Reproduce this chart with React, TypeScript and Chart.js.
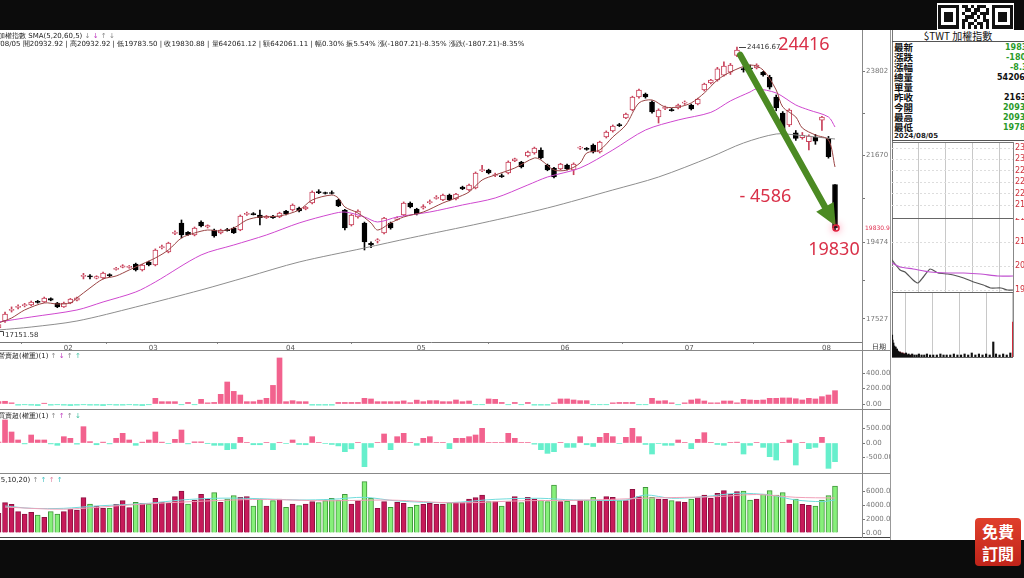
import React, { useEffect, useRef } from "react";
import { Chart, registerables } from "chart.js";

Chart.register(...registerables);

// ---------------- data ----------------
const dates = (
  "01/18 01/19 01/22 01/23 01/24 01/25 01/26 01/29 01/30 01/31 " +
  "02/01 02/02 02/05 02/15 02/16 02/19 02/20 02/21 02/22 02/23 02/26 02/27 02/29 " +
  "03/01 03/04 03/05 03/06 03/07 03/08 03/11 03/12 03/13 03/14 03/15 03/18 03/19 03/20 03/21 03/22 03/25 03/26 03/27 03/28 03/29 " +
  "04/01 04/02 04/03 04/08 04/09 04/10 04/11 04/12 04/15 04/16 04/17 04/18 04/19 04/22 04/23 04/24 04/25 04/26 04/29 04/30 " +
  "05/02 05/03 05/06 05/07 05/08 05/09 05/10 05/13 05/14 05/15 05/16 05/17 05/20 05/21 05/22 05/23 05/24 05/27 05/28 05/29 05/30 05/31 " +
  "06/03 06/04 06/05 06/06 06/07 06/11 06/12 06/13 06/14 06/17 06/18 06/19 06/20 06/21 06/24 06/25 06/26 06/27 06/28 " +
  "07/01 07/02 07/03 07/04 07/05 07/08 07/09 07/10 07/11 07/12 07/15 07/16 07/17 07/18 07/19 07/22 07/23 07/26 07/29 07/30 07/31 " +
  "08/01 08/02 08/05"
).split(" ");

const opens = [
  17300, 17474, 17740, 17815, 17860, 17879, 17965, 17955, 18040, 17930,
  17830, 17930, 18000, 18600, 18620, 18560, 18563, 18650, 18780, 18840,
  18830, 18918, 18766, 18968, 18892, 19330, 19222, 19690, 19957, 19720,
  19653, 19982, 19860, 19779, 19703, 19790, 19830, 19779, 20175, 20195,
  20160, 20090, 20130, 20109, 20260, 20286, 20337, 20311, 20464, 20750,
  20730, 20730, 20540, 20286, 19906, 20109, 19957, 19440, 19500, 19703,
  19957, 20050, 20159, 20464, 20311, 20340, 20470, 20580, 20540, 20666,
  20565, 20869, 20794, 20844, 21280, 21300, 21160, 21150, 21224, 21530,
  21500, 21655, 21730, 21807, 21426, 21350, 21325, 21426, 21300, 21850,
  21850, 21934, 21756, 22136, 22288, 22450, 22618, 22820, 23150, 23225,
  23023, 22643, 22860, 22830, 22871, 22990, 22947, 22973, 23327, 23504,
  23580, 23700, 23780, 24200, 23870, 23880, 23884, 23783, 23650, 23150,
  22744, 22440, 22240, 22120, 22020, 22130, 22560, 22100, 20932.92,
];
const highs = [
  17400, 17700, 17830, 17880, 17920, 17980, 17995, 18080, 18060, 17945,
  17950, 18045, 18080, 18680, 18650, 18620, 18710, 18670, 18830, 18900,
  18880, 18940, 18910, 18990, 19300, 19400, 19470, 19760, 20033, 19740,
  19855, 20010, 19910, 19800, 19800, 19820, 19850, 20160, 20230, 20220,
  20286, 20150, 20150, 20230, 20280, 20440, 20360, 20380, 20770, 20800,
  20740, 20770, 20560, 20300, 20180, 20290, 19980, 19480, 19560, 20100,
  19980, 20110, 20490, 20490, 20330, 20420, 20540, 20650, 20690, 20690,
  20710, 20890, 20940, 21250, 21420, 21320, 21220, 21200, 21530, 21600,
  21520, 21780, 21880, 21860, 21450, 21370, 21470, 21450, 21480, 21900,
  21870, 21960, 22030, 22290, 22440, 22480, 22740, 23170, 23350, 23250,
  23050, 22850, 22920, 22860, 22970, 23050, 22970, 23120, 23500, 23600,
  23900, 24040, 24000, 24416.67, 23910, 23960, 23990, 23800, 23700, 23200,
  22780, 22850, 22300, 22250, 22190, 22200, 22660, 22150, 20932.92,
];
const lows = [
  17151.58, 17440, 17700, 17780, 17830, 17860, 17925, 17940, 17985, 17810,
  17815, 17910, 17980, 18540, 18540, 18540, 18540, 18590, 18760, 18820,
  18810, 18740, 18740, 18870, 18870, 19300, 19200, 19660, 19577, 19640,
  19630, 19860, 19830, 19600, 19680, 19750, 19690, 19760, 20150, 20160,
  19906, 20070, 20070, 20090, 20160, 20260, 20240, 20290, 20440, 20700,
  20690, 20690, 20370, 19780, 19880, 20080, 19273, 19330, 19450, 19680,
  19800, 20030, 20140, 20340, 20160, 20310, 20440, 20560, 20520, 20520,
  20540, 20800, 20770, 20820, 21260, 21200, 21130, 21110, 21200, 21510,
  21350, 21630, 21700, 21580, 21280, 21100, 21300, 21300, 21180, 21820,
  21800, 21730, 21730, 22110, 22260, 22400, 22600, 22800, 23120, 23120,
  22740, 22490, 22830, 22790, 22850, 22960, 22820, 22950, 23300, 23480,
  23550, 23680, 23720, 24170, 23780, 23840, 23860, 23680, 23350, 22800,
  22200, 22400, 22050, 22080, 21810, 21950, 22300, 21600, 19783.5,
];
const closes = [
  17380, 17651, 17770, 17845, 17890, 17955, 17945, 18057, 18000, 17830,
  17930, 18030, 18060, 18630, 18590, 18600, 18690, 18620, 18810, 18870,
  18860, 18766, 18892, 18892, 19273, 19360, 19450, 19720, 19653, 19660,
  19830, 19881, 19890, 19627, 19779, 19765, 19703, 20134, 20200, 20170,
  20090, 20130, 20090, 20210, 20185, 20413, 20260, 20362, 20742, 20725,
  20705, 20705, 20388, 19830, 20159, 20260, 19475, 19400, 19530, 20083,
  19830, 20083, 20464, 20362, 20185, 20370, 20500, 20610, 20666, 20540,
  20690, 20819, 20920, 21224, 21310, 21224, 21185, 21130, 21502, 21580,
  21380, 21756, 21857, 21604, 21300, 21122, 21452, 21325, 21452, 21880,
  21820, 21756, 22009, 22262, 22415, 22420, 22718, 23150, 23327, 23150,
  22769, 22820, 22890, 22800, 22947, 23020, 22846, 23099, 23479, 23580,
  23860, 23930, 23960, 24340, 23834, 23860, 23960, 23708, 23400, 22870,
  22300, 22820, 22100, 22180, 22160, 22030, 22640, 21638, 19830.88,
];

const volumes = [
  2812, 4338, 4099, 3051, 2717, 2955, 2574, 2240, 3051, 2717,
  3051, 3384, 3289, 5053, 4147, 3861, 3527, 3527, 4099, 4624,
  3623, 4385, 4243, 4147, 4958, 4433, 4243, 5196, 6005, 4147,
  4719, 5530, 4862, 5767, 4385, 4862, 5339, 5100, 5196, 3861,
  4862, 3861, 4624, 4862, 3670, 4147, 3909, 4147, 4481, 4338,
  4624, 4958, 4719, 5530, 4147, 4624, 7340, 4958, 3527, 4481,
  3670, 4385, 4243, 3670, 4004, 4099, 4243, 4099, 4147, 4338,
  4338, 4338, 4862, 5053, 5434, 4481, 4481, 3861, 4481, 5196,
  4338, 5100, 4862, 4719, 4481, 6863, 4481, 4576, 4004, 4719,
  4719, 5100, 4719, 5196, 5100, 4624, 4624, 6243, 5196, 6530,
  5100, 4862, 4815, 4624, 4481, 4385, 4862, 5053, 5434, 4958,
  5672, 6053, 5530, 5910, 6005, 4719, 4862, 5577, 6053, 5434,
  5767, 4099, 4862, 4099, 3956, 3861, 4719, 5339, 6720,
];
// r = red (up) volume bar, g = green (down) volume bar
const volumeDir =
  "r" + "rrrrrgrggr" + "rrrgrrgrrr" + "grgrrrrrgr" + "rrgrggrrgg" + "rgrgrgrrgg" +
  "gggrrggrrg" + "rrggrrrrgr" + "rrrrgrgrrg" + "rrgggrgrrg" + "grrrgrrrgg" +
  "rrgrrgrrrr" + "rrrggrgggg" + "rgrrgggg";

const panel2Values = [
  30,
  35, 15, -15, -10, -15, -20, 10, -15, -10, -15,
  -20, -15, -10, -15, -15, -20, -10, -15, -15, -10,
  -15, -20,
  -10,
  73, 30, 30, 30, -10, 20, -10,
  60, 15, 20, 125, 284, 163, 116, 30, 30, 50,
  73, 240, 594, 30, 43, 30, 30, -15, -15, -15,
  -15, 20, 20, 20, 20, 73, 65, 30, 30, 30,
  30, 40, 17, 50, 30, 43, 43, 30, 30, 52,
  30, 39, -10, -10, 65, 60, 20, -10, 20, -10,
  20, -15, -15, -15, 15, 65, 65, 52, 43, 43,
  -10, -10, -10, 15, 20, 20, 20, -10, -10, 73,
  39, 43, 15, -10, 15, 52, 65, 39, 15, 15,
  39, 39, 15, 60, 52, 48, 52, 73, 73, 78,
  78, 68, 52, 73, 65, 95, 116, 172,
];
const panel3Values = [
  30,
  793, 380, 104, -30, 276, 104, 104, -30, -80, 218,
  161, -40, 563, 46, -60, 30, -30, 161, 333, 104,
  -80, 30, 104, 380, 30, -20, 127, 448, -30, 40,
  40, -10, -80, -80, -230, -200, 196, 20, -60, -60,
  20, -230, 20, -20, 104, -50, -60, 218, 20, -20,
  -50, -100, -300, -200, 20, -817, -150, 20, 311, -230,
  218, 333, 20, -80, 161, 218, 20, 20, -196, 161,
  161, 218, 276, 506, 20, 20, 20, 333, 161, 20,
  20, -40, -230, -357, -300, 20, -150, -150, 218, -60,
  -120, 196, 333, 218, -20, 196, 506, 218, -50, -380,
  -20, -80, -80, 104, 20, -196, 127, 356, 20, -50,
  -80, 20, 30, -380, -80, 20, -150, -472, -587, 20,
  104, -759, 20, -196, -150, 196, -874, -644,
];

// moving-average lines as [day index, value]
const ma5Line = [
  [0, 17423], [2, 17549], [4, 17752], [7, 17930], [9, 17904], [11, 17930], [12, 18056], [14, 18310],
  [16, 18538], [18, 18614], [20, 18766], [22, 18918], [24, 19070], [26, 19273], [28, 19577], [30, 19703],
  [32, 19779], [34, 19754], [36, 19830], [38, 20033], [40, 20109], [43, 20134], [46, 20286], [48, 20540],
  [51, 20666], [52, 20590], [53, 20362], [55, 20210], [57, 19957], [58, 19779], [60, 19957], [62, 20109],
  [65, 20235], [68, 20464], [70, 20590], [72, 20742], [74, 21046], [76, 21173], [79, 21350], [82, 21604],
  [83, 21553], [85, 21300], [87, 21300], [89, 21477], [90, 21730], [92, 21807], [94, 22136], [96, 22440],
  [98, 22998], [100, 23074], [102, 22896], [104, 22896], [106, 22998], [108, 23251], [110, 23580],
  [112, 23783], [115, 23960], [117, 23834], [119, 23327], [120, 22896], [122, 22643], [123, 22364],
  [125, 22187], [127, 22060], [128, 21376],
];
const ma20Line = [
  [0, 17448], [5, 17575], [12, 17752], [16, 17955], [21, 18208], [24, 18462], [31, 19146], [36, 19399],
  [41, 19653], [46, 19957], [51, 20185], [53, 20235], [56, 20109], [58, 19982], [61, 20109], [66, 20235],
  [71, 20413], [76, 20590], [81, 20920], [84, 21122], [89, 21350], [94, 21807], [99, 22313], [104, 22567],
  [109, 22760], [112, 23050], [115, 23276], [116, 23352], [119, 23251], [122, 22947], [124, 22820],
  [127, 22643], [128, 22389],
];
const ma60Line = [
  [0, 17245], [5, 17321], [12, 17473], [21, 17828], [31, 18259], [38, 18588], [46, 18968], [56, 19323],
  [63, 19577], [74, 19957], [84, 20337], [94, 20793], [101, 21122], [109, 21629], [114, 21984],
  [119, 22212], [122, 22187], [128, 22085],
];
const volMaCyan = [
  [1, 3860], [5, 3527], [10, 3527], [15, 3861], [23, 4243], [28, 4719], [33, 4958], [38, 4958],
  [46, 4719], [51, 4815], [56, 5100], [61, 4576], [69, 4338], [76, 4815], [83, 4958], [88, 4719],
  [96, 4719], [99, 5434], [103, 4958], [108, 5196], [113, 5672], [118, 5434], [122, 4719], [126, 4481],
  [128, 4719],
];
const volMaPink = [
  [1, 3700], [10, 3400], [20, 4000], [30, 4500], [40, 4800], [50, 4600], [60, 4700], [70, 4300],
  [80, 4600], [90, 4700], [100, 5000], [110, 5200], [116, 5500], [122, 5100], [128, 5000],
];

const priceTicks = [17527, 19474, 21670, 23802];
const priceMinorTicks = [18500, 20572, 22736];
const panel2Ticks = [0, 200, 400];
const panel3Ticks = [-500, 0, 500];
const volumeTicks = [0, 2000, 4000, 6000];

// intraday mini chart (minutes after 09:00)
const intradayPrice = [
  [0, 20550], [18, 20300], [29, 20250], [47, 20050], [58, 19975], [70, 20125], [85, 20325], [103, 20225],
  [124, 20200], [137, 20175], [160, 20100], [182, 20000], [204, 19925], [220, 19850], [243, 19850],
  [258, 19800], [270, 19800],
];
const intradayAvg = [
  [0, 20475], [18, 20375], [47, 20325], [85, 20250], [124, 20225], [160, 20225], [198, 20200],
  [236, 20150], [270, 20150],
];
const intradayVolBlack = [
  [0, 22], [1, 17], [2, 13], [3, 14], [4, 10], [5, 11], [6, 9], [7, 8], [8, 10], [9, 7], [10, 6], [11, 8],
  [12, 5], [13, 6], [14, 5], [15, 4], [17, 5], [19, 4], [21, 3], [23, 4], [25, 3], [28, 3], [31, 4],
  [34, 2], [37, 3], [40, 2], [45, 3], [50, 2], [55, 2], [60, 3], [66, 2], [72, 2], [78, 3], [85, 2],
  [92, 2], [100, 2], [108, 3], [115, 2], [122, 2], [130, 2], [138, 3], [146, 2], [154, 2], [162, 3],
  [170, 2], [178, 4], [186, 2], [194, 3], [202, 2], [210, 3], [218, 2], [226, 15], [232, 3], [240, 2],
  [248, 3], [256, 2], [264, 4],
];
const intradayVolRed = [
  [16, 4], [18, 5], [20, 4], [22, 3], [24, 4], [27, 3], [30, 3], [36, 2], [44, 2], [270, 35],
];
const intradayTopTicks = [21900, 22200, 22500, 22800, 23100, 23400];
const intradayPriceTicks = [19800, 20100, 20400, 20700, 21000, 21300, 21600];

const quoteRows = [
  ["最新", "19830.88", "#2a9a2a", 1005],
  ["漲跌", "-1807.21", "#2a9a2a", 1006],
  ["漲幅", "-8.35%", "#2a9a2a", 1010],
  ["總量", "5420612", "#111", 997],
  ["單量", "", "#111", 997],
  ["昨收", "21638.04", "#111", 1004],
  ["今開", "20932.92", "#2a9a2a", 1003],
  ["最高", "20932.92", "#2a9a2a", 1003],
  ["最低", "19783.50", "#2a9a2a", 1003],
];

const bigLabels = [
  { text: "24416", j: 119.3, v: 24467 },
  { text: "- 4586", j: 113.4, v: 20616 },
  { text: "19830", j: 123.9, v: 19273 },
];
const arrowFrom = [113.5, 24214];
const arrowTo = [128.1, 19880];

// ---------------- layout constants ----------------
const X_MIN = 0.23;
const X_MAX = 132.13;
const UP = "#c8415a";
const FONT = '"DejaVu Sans", sans-serif';

const fitRight = (w: number) => (s: any) => {
  s.width = w;
  s.paddingTop = 0;
  s.paddingBottom = 0;
  s.paddingLeft = 0;
  s.paddingRight = 0;
};

const monthStarts = dates
  .map((d, j) => (j > 0 && d.slice(0, 2) !== dates[j - 1].slice(0, 2) ? j : -1))
  .filter((j) => j >= 0);

const isUp = (j: number) => closes[j] >= opens[j];

const annotationPlugin = {
  id: "annot",
  afterDatasetsDraw(chart: any) {
    const { ctx } = chart;
    const x = chart.scales.x;
    const y = chart.scales.y;
    ctx.save();
    // highest price marker
    let pj = 0;
    highs.forEach((h, j) => { if (h > highs[pj]) pj = j; });
    const px = x.getPixelForValue(pj);
    const py = y.getPixelForValue(highs[pj]);
    ctx.strokeStyle = "#444";
    ctx.lineWidth = 1;
    ctx.beginPath();
    ctx.moveTo(px + 2, Math.round(py) + 0.5);
    ctx.lineTo(px + 9, Math.round(py) + 0.5);
    ctx.stroke();
    ctx.font = "7px " + FONT;
    ctx.fillStyle = "#333";
    ctx.textBaseline = "middle";
    ctx.textAlign = "left";
    ctx.fillText(highs[pj].toFixed(2), px + 10, py);
    // lowest price marker
    let lj = 0;
    lows.forEach((l, j) => { if (l < lows[lj]) lj = j; });
    const ly = y.getPixelForValue(lows[lj]);
    ctx.beginPath();
    ctx.moveTo(0, Math.round(ly) - 2.5);
    ctx.lineTo(3.5, Math.round(ly) - 2.5);
    ctx.lineTo(3.5, Math.round(ly) + 2);
    ctx.stroke();
    ctx.fillText(lows[lj].toFixed(2), 5, ly + 1);

    // green arrow
    const x1 = x.getPixelForValue(arrowFrom[0]);
    const y1 = y.getPixelForValue(arrowFrom[1]);
    const x2 = x.getPixelForValue(arrowTo[0]);
    const y2 = y.getPixelForValue(arrowTo[1]);
    const ang = Math.atan2(y2 - y1, x2 - x1);
    const headLen = 22;
    const headW = 10;
    const bx = x2 - headLen * Math.cos(ang);
    const by = y2 - headLen * Math.sin(ang);
    ctx.strokeStyle = "#4b8a23";
    ctx.fillStyle = "#4b8a23";
    ctx.lineWidth = 6.5;
    ctx.lineCap = "round";
    ctx.beginPath();
    ctx.moveTo(x1, y1);
    ctx.lineTo(bx, by);
    ctx.stroke();
    ctx.beginPath();
    ctx.moveTo(x2, y2);
    ctx.lineTo(bx + headW * Math.sin(ang), by - headW * Math.cos(ang));
    ctx.lineTo(bx - headW * Math.sin(ang), by + headW * Math.cos(ang));
    ctx.closePath();
    ctx.fill();

    // red dot at the last close
    const last = closes.length - 1;
    const dx = x.getPixelForValue(last) + 1;
    const dy = y.getPixelForValue(closes[last]);
    ctx.shadowColor = "rgba(255,60,110,0.9)";
    ctx.shadowBlur = 7;
    ctx.strokeStyle = "#e0203c";
    ctx.lineWidth = 1.5;
    ctx.beginPath();
    ctx.arc(dx, dy, 3, 0, Math.PI * 2);
    ctx.stroke();
    ctx.shadowBlur = 0;

    // big red annotations
    ctx.font = '18px "Noto Sans", sans-serif';
    ctx.fillStyle = "#d93048";
    ctx.textBaseline = "middle";
    bigLabels.forEach((b) => {
      ctx.fillText(b.text, x.getPixelForValue(b.j), y.getPixelForValue(b.v));
    });

    // last close label on the axis
    ctx.font = "6px " + FONT;
    ctx.fillStyle = "#e03050";
    ctx.fillText(closes[last].toFixed(1), chart.chartArea.right + 3, dy);
    ctx.restore();
  },
};

const baseOptions = (yMin: number, yMax: number, yTicks: number[], labelFn: (v: number) => string, showX: boolean): any => ({
  responsive: false,
  animation: false,
  events: [],
  layout: { padding: 0 },
  plugins: { legend: { display: false }, tooltip: { enabled: false } },
  scales: {
    x: showX
      ? {
          type: "linear", min: X_MIN, max: X_MAX, bounds: "data", offset: false,
          grid: { display: true, drawOnChartArea: false, drawTicks: true, tickLength: 2, color: "#888" },
          border: { display: true, color: "#777" },
          ticks: {
            autoSkip: false, maxRotation: 0, align: "start", padding: 0,
            font: { size: 7, family: FONT }, color: "#555",
            callback: (v: any) => (dates[Math.round(v)] || "").slice(0, 2),
          },
          afterBuildTicks: (s: any) => { s.ticks = monthStarts.map((v) => ({ value: v })); },
          afterFit: (s: any) => { s.height = 8; s.paddingLeft = 0; s.paddingRight = 0; },
        }
      : { type: "linear", min: X_MIN, max: X_MAX, bounds: "data", offset: false, display: false },
    y: {
      type: "linear", position: "right", min: yMin, max: yMax, bounds: "data",
      grid: { display: true, drawOnChartArea: false, tickLength: 3, color: "#777" },
      border: { display: true, color: "#777" },
      ticks: { font: { size: 7, family: FONT }, color: "#777", padding: 1, callback: (v: any) => labelFn(Number(v)) },
      afterBuildTicks: (s: any) => { s.ticks = yTicks.map((v) => ({ value: v })); },
      afterFit: fitRight(28),
    },
  },
});

const intradayOptions = (yMin: number, yMax: number, yTicks: number[]): any => ({
  responsive: false,
  animation: false,
  events: [],
  layout: { padding: 0 },
  plugins: { legend: { display: false }, tooltip: { enabled: false } },
  scales: {
    x: {
      type: "linear", min: 0, max: 270, bounds: "data", offset: false,
      grid: { display: true, drawTicks: false, color: "#c8c8c8" },
      border: { display: false },
      ticks: { display: false },
      afterBuildTicks: (s: any) => { s.ticks = [60, 120, 180, 240].map((v) => ({ value: v })); },
      afterFit: (s: any) => { s.height = 0; },
    },
    y: {
      type: "linear", position: "right", min: yMin, max: yMax, bounds: "data",
      grid: { display: true, drawTicks: false, color: "#dddddd" },
      border: { display: true, color: "#888", dash: [2, 2] },
      ticks: { font: { size: 8, family: FONT }, color: "#d0303a", padding: 2, callback: (v: any) => String(v) },
      afterBuildTicks: (s: any) => { s.ticks = yTicks.map((v) => ({ value: v })); },
      afterFit: fitRight(11),
    },
  },
});

const txt = (extra: React.CSSProperties): React.CSSProperties => ({
  position: "absolute",
  fontFamily: FONT,
  fontSize: 7,
  lineHeight: "8px",
  color: "#222",
  whiteSpace: "nowrap",
  ...extra,
});

const hLine = (top: number, left: number, width: number, color = "#888"): React.CSSProperties => ({
  position: "absolute", top, left, width, height: 1, background: color,
});

export default function App() {
  const mainRef = useRef<HTMLCanvasElement>(null);
  const p2Ref = useRef<HTMLCanvasElement>(null);
  const p3Ref = useRef<HTMLCanvasElement>(null);
  const p4Ref = useRef<HTMLCanvasElement>(null);
  const itTopRef = useRef<HTMLCanvasElement>(null);
  const itPriceRef = useRef<HTMLCanvasElement>(null);
  const itVolRef = useRef<HTMLCanvasElement>(null);

  useEffect(() => {
    const charts: Chart[] = [];
    const pts = (arr: number[][]) => arr.map(([x, y]) => ({ x, y }));
    const line = (arr: number[][], color: string, width = 1): any => ({
      type: "line", data: pts(arr), borderColor: color, borderWidth: width,
      pointRadius: 0, tension: 0.3, order: 0,
    });

    // main candlestick chart
    charts.push(
      new Chart(mainRef.current!, {
        type: "bar",
        data: {
          datasets: [
            line(ma5Line, "#9a4444"),
            line(ma20Line, "#cf48cf"),
            line(ma60Line, "#8e8e8e"),
            {
              type: "bar",
              data: dates.map((_, j) => ({ x: j, y: [opens[j], closes[j]] })),
              backgroundColor: dates.map((_, j) => (isUp(j) ? "#ffffff" : "#000000")),
              borderColor: dates.map((_, j) => (isUp(j) ? UP : "#000000")),
              borderWidth: 1, borderSkipped: false, barThickness: 5, grouped: false, minBarLength: 1, order: 1,
            } as any,
            {
              type: "bar",
              data: dates.map((_, j) => ({ x: j, y: [lows[j], highs[j]] })),
              backgroundColor: dates.map((_, j) => (isUp(j) ? UP : "#000000")),
              borderWidth: 0, barThickness: 1, grouped: false, order: 2,
            } as any,
          ],
        },
        options: baseOptions(16941, 24847, [...priceTicks, ...priceMinorTicks].sort((a, b) => a - b),
          (v) => (priceTicks.includes(v) ? String(v) : ""), true),
        plugins: [annotationPlugin],
      })
    );

    // panel 2
    charts.push(
      new Chart(p2Ref.current!, {
        type: "bar",
        data: {
          datasets: [{
            data: panel2Values.map((v, j) => ({ x: j, y: v })),
            backgroundColor: panel2Values.map((v) => (v >= 0 ? "#f2628e" : "#66efcc")),
            barThickness: 5, borderWidth: 0,
          } as any],
        },
        options: baseOptions(-51.6, 696.8, panel2Ticks, (v) => v.toFixed(2), false),
      })
    );

    // panel 3
    charts.push(
      new Chart(p3Ref.current!, {
        type: "bar",
        data: {
          datasets: [{
            data: panel3Values.map((v, j) => ({ x: j, y: v })),
            backgroundColor: panel3Values.map((v) => (v >= 0 ? "#f2628e" : "#66efcc")),
            barThickness: 5, borderWidth: 0,
          } as any],
        },
        options: baseOptions(-1000, 1138, panel3Ticks, (v) => v.toFixed(2), false),
      })
    );

    // panel 4 volume
    charts.push(
      new Chart(p4Ref.current!, {
        type: "bar",
        data: {
          datasets: [
            line(volMaPink, "#f0a0b8"),
            line(volMaCyan, "#70dcdc"),
            {
              type: "bar",
              data: volumes.map((v, j) => ({ x: j, y: v })),
              backgroundColor: volumes.map((_, j) => (volumeDir[j] === "r" ? "#c71a5a" : "#86f07a")),
              borderColor: volumes.map((_, j) => (volumeDir[j] === "r" ? "#8e1040" : "#3f963a")),
              borderWidth: 1, borderSkipped: "bottom", barThickness: 5, order: 1,
            } as any,
          ],
        },
        options: baseOptions(-571, 8429, volumeTicks, (v) => v.toFixed(2), false),
      })
    );

    // intraday: empty top section
    charts.push(new Chart(itTopRef.current!, { type: "line", data: { datasets: [] }, options: intradayOptions(21558, 23558, intradayTopTicks) }));
    // intraday price
    charts.push(
      new Chart(itPriceRef.current!, {
        type: "line",
        data: {
          datasets: [
            { data: pts(intradayAvg), borderColor: "#c050d0", borderWidth: 1.2, pointRadius: 0, tension: 0.2 } as any,
            { data: pts(intradayPrice), borderColor: "#555", borderWidth: 1.2, pointRadius: 0, tension: 0.2 } as any,
          ],
        },
        options: intradayOptions(19750, 21600, intradayPriceTicks),
      })
    );
    // intraday volume
    const volOpts = intradayOptions(0, 65, []);
    volOpts.scales.y.ticks.display = false;
    charts.push(
      new Chart(itVolRef.current!, {
        type: "bar",
        data: {
          datasets: [
            { data: pts(intradayVolBlack), backgroundColor: "#111", barThickness: 1.5, grouped: false } as any,
            { data: pts(intradayVolRed), backgroundColor: "#d02030", barThickness: 1.2, grouped: false } as any,
          ],
        },
        options: volOpts,
      })
    );

    return () => charts.forEach((c) => c.destroy());
  }, []);

  const qr = [
    "1111111011010111001111111",
    "1000001001101100101000001",
    "1011101010011011101011101",
    "1011101001110101001011101",
    "1011101011001001101011101",
    "1000001010110110101000001",
    "1111111010101010101111111",
  ];

  return (
    <div style={{ position: "fixed", left: 0, top: 0, width: 1024, height: 578, background: "#0c0c0c", overflow: "hidden" }}>
      {/* white working area */}
      <div style={{ position: "absolute", left: 0, top: 30, width: 1024, height: 510, background: "#ffffff" }} />

      {/* QR-like logo */}
      <div style={{ position: "absolute", left: 937, top: 3, width: 77, height: 27, background: "#fff" }}>
        {qr.map((row, r) =>
          row.split("").map((c, k) =>
            c === "1" ? (
              <div key={r + "-" + k} style={{ position: "absolute", left: 1 + k * 3, top: 2 + r * 3.4, width: 3, height: 3.4, background: "#111" }} />
            ) : null
          )
        )}
      </div>

      {/* chart canvases */}
      <canvas ref={mainRef} width={890} height={320} style={{ position: "absolute", left: 0, top: 30 }} />
      <canvas ref={p2Ref} width={890} height={58} style={{ position: "absolute", left: 0, top: 350 }} />
      <canvas ref={p3Ref} width={890} height={62} style={{ position: "absolute", left: 0, top: 410 }} />
      <canvas ref={p4Ref} width={890} height={63} style={{ position: "absolute", left: 0, top: 474 }} />

      {/* separators */}
      <div style={hLine(350, 0, 890)} />
      <div style={hLine(409, 0, 890)} />
      <div style={hLine(473, 0, 890)} />
      <div style={hLine(537, 0, 890, "#444")} />
      <div style={{ position: "absolute", left: 862, top: 30, width: 1, height: 508, background: "#888" }} />

      {/* header texts */}
      <div style={txt({ left: -2, top: 32 })}>
        加權指數 SMA(5,20,60,5) <span style={{ color: "#888" }}>↓</span> <span style={{ color: "#c040c0" }}>↓</span>{" "}
        <span style={{ color: "#888" }}>↑</span> <span style={{ color: "#888" }}>↓</span>
      </div>
      <div style={txt({ left: -2, top: 40 })}>
        /08/05 開20932.92 | 高20932.92 | 低19783.50 | 收19830.88 | 量642061.12 | 額642061.11 | 幅0.30% 振5.54% 漲(-1807.21)-8.35% 漲跌(-1807.21)-8.35%
      </div>
      <div style={txt({ left: 872, top: 343 })}>日期</div>
      <div style={txt({ left: -2, top: 352 })}>
        營賣超(權重)(1) <span style={{ color: "#888" }}>↑</span> <span style={{ color: "#c040c0" }}>↓</span>{" "}
        <span style={{ color: "#888" }}>↑</span> <span style={{ color: "#40c0a0" }}>↑</span>
      </div>
      <div style={txt({ left: -2, top: 412 })}>
        買賣超(權重)(1) <span style={{ color: "#888" }}>↑</span> <span style={{ color: "#c040c0" }}>↑</span>{" "}
        <span style={{ color: "#888" }}>↑</span> <span style={{ color: "#40c0a0" }}>↓</span>
      </div>
      <div style={txt({ left: -2, top: 476 })}>
        (5,10,20) <span style={{ color: "#888" }}>↑</span> <span style={{ color: "#40c0c0" }}>↑</span>{" "}
        <span style={{ color: "#e080a0" }}>↑</span> <span style={{ color: "#40c0c0" }}>↑</span>
      </div>

      {/* right quote panel */}
      <div style={{ position: "absolute", left: 890, top: 30, width: 1, height: 510, background: "#999" }} />
      <div style={{ position: "absolute", left: 892, top: 30, width: 1, height: 328, background: "#777" }} />
      <div style={txt({ left: 892, top: 31, width: 132, textAlign: "center", fontSize: 10, lineHeight: "10px", fontFamily: '"Noto Sans CJK TC", sans-serif', color: "#111" })}>
        $TWT 加權指數
      </div>
      <div style={hLine(41, 892, 132, "#555")} />
      {quoteRows.map(([label, value, color, vx], k) => (
        <React.Fragment key={label as string}>
          <div style={txt({ left: 894, top: 41.5 + k * 10, fontSize: 9.5, lineHeight: "10px", fontWeight: 700, fontFamily: '"Noto Sans CJK TC", sans-serif', color: "#111" })}>
            {label}
          </div>
          <div style={txt({ left: vx as number, top: 42.5 + k * 10, fontSize: 8, lineHeight: "9px", fontWeight: 700, color: color as string })}>
            {value}
          </div>
        </React.Fragment>
      ))}
      <div style={txt({ left: 894, top: 132, fontSize: 7, fontWeight: 700, color: "#222" })}>2024/08/05</div>
      <div style={hLine(140, 892, 132, "#555")} />
      <canvas ref={itTopRef} width={132} height={76} style={{ position: "absolute", left: 892, top: 142 }} />
      <canvas ref={itPriceRef} width={132} height={74} style={{ position: "absolute", left: 892, top: 218 }} />
      <canvas ref={itVolRef} width={132} height={65} style={{ position: "absolute", left: 892, top: 292 }} />
      <div style={hLine(142, 892, 121, "#777")} />
      <div style={hLine(218, 892, 121, "#666")} />
      <div style={hLine(292, 892, 121, "#666")} />
      <div style={hLine(357, 892, 121, "#666")} />

      {/* subscribe button */}
      <div
        style={{
          position: "absolute", left: 975, top: 518, width: 46, height: 48, borderRadius: 4,
          background: "linear-gradient(#e0402c, #c0241a)", color: "#fff", textAlign: "center",
          fontFamily: '"Noto Sans CJK TC", sans-serif', fontWeight: 700, fontSize: 16, lineHeight: "22px",
          paddingTop: 2, boxSizing: "border-box",
        }}
      >
        免費
        <br />
        訂閱
      </div>
    </div>
  );
}
